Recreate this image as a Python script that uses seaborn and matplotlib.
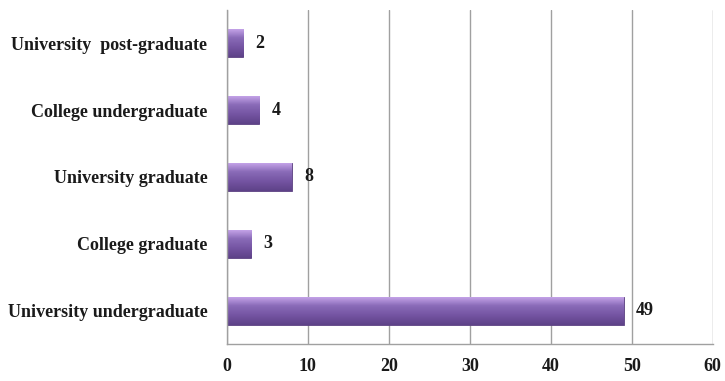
import numpy as np
import pandas as pd
import matplotlib
matplotlib.use('Agg')
import matplotlib.pyplot as plt
import seaborn as sns

categories = ['University  post-graduate', 'College undergraduate', 'University graduate',
              'College graduate', 'University undergraduate']
counts = [2, 4, 8, 3, 49]
x_ticks = [0, 10, 20, 30, 40, 50, 60]

df = pd.DataFrame({'level': categories, 'count': counts})

sns.set_style('white')
plt.rcParams['font.family'] = ['Liberation Serif', 'DejaVu Serif']
plt.rcParams['font.weight'] = 'bold'

fig = plt.figure(figsize=(7.25, 3.81), dpi=100)
ax = fig.add_axes([0.313, 0.097, 0.670, 0.877])

sns.barplot(data=df, y='level', x='count', color='#7b5ba8', width=0.42,
            orient='h', ax=ax, saturation=1)

# bevel-ish gradient on each bar
grad = np.linspace(0, 1, 64).reshape(-1, 1)
cmap = matplotlib.colors.LinearSegmentedColormap.from_list(
    'bev', ['#c9a8ec', '#8a6bb8', '#7454a2', '#5e4288'])
for p in ax.patches:
    x0, y0 = p.get_x(), p.get_y()
    w, h = p.get_width(), p.get_height()
    im = ax.imshow(grad, extent=[x0, x0 + w, y0 + h, y0], cmap=cmap,
                   aspect='auto', zorder=p.get_zorder() + 0.1)
    im.set_clip_path(p)
    p.set_edgecolor('#5a4080')
    p.set_linewidth(0.6)

for p, v in zip(ax.patches, counts):
    ax.annotate(str(v), (p.get_x() + p.get_width(), p.get_y() + p.get_height() / 2),
                xytext=(9, 0), textcoords='offset points',
                va='center', ha='left', fontsize=13, fontweight='bold', color='#1a1a1a')

ax.set_xlim(0, 60)
ax.set_ylim(len(categories) - 0.5, -0.5)
ax.set_xticks(x_ticks)
ax.set_xlabel('')
ax.set_ylabel('')
ax.xaxis.grid(True, color='#a0a0a0', linewidth=1)
ax.set_axisbelow(True)
for s in ['top', 'right']:
    ax.spines[s].set_visible(False)
for s in ['left', 'bottom']:
    ax.spines[s].set_color('#a0a0a0')
    ax.spines[s].set_linewidth(1)
ax.tick_params(axis='x', direction='out', length=5, color='#a0a0a0', width=1,
               labelsize=13, labelcolor='#1a1a1a', pad=5)
ax.tick_params(axis='y', length=0, labelsize=13, labelcolor='#1a1a1a', pad=14)
for t in ax.get_xticklabels() + ax.get_yticklabels():
    t.set_fontweight('bold')

fig.savefig('out.png', dpi=100)
